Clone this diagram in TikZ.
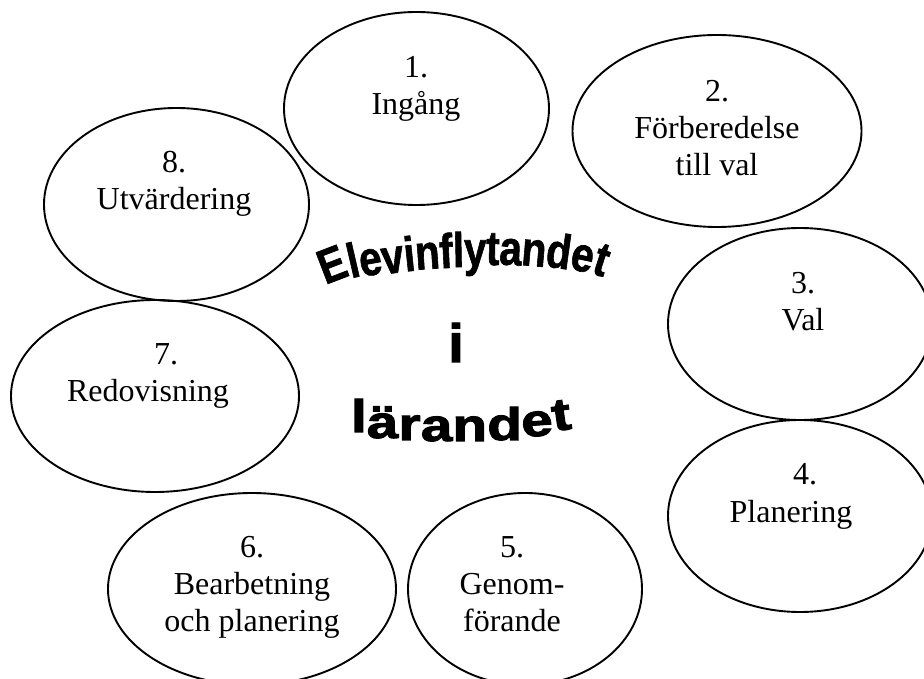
\documentclass[tikz,border=0pt]{standalone}
\usepackage{graphicx}
\usepackage{fontspec}
\setmainfont{Liberation Serif}
\newfontfamily\wafont[BoldFeatures={FakeBold=1.4}]{Liberation Sans}
\newfontfamily\wafontheavy[BoldFeatures={FakeBold=2.2}]{Liberation Sans}
\usetikzlibrary{shapes.geometric}
\tikzset{
  stage/.style={draw, line width=1.9pt, ellipse, inner sep=0pt},
  stagetext/.style={anchor=base, align=center, inner sep=0pt,
    font=\fontsize{32}{37}\selectfont},
  wordtop/.style={anchor=base, inner sep=0pt,
    font=\wafont\bfseries\fontsize{45}{45}\selectfont},
  wordbottom/.style={anchor=base, inner sep=0pt,
    font=\wafontheavy\bfseries\fontsize{47}{47}\selectfont},
}
\begin{document}
\begin{tikzpicture}[x=1pt,y=1pt]
\useasboundingbox (0,0) rectangle (924,678);
\clip (0,0) rectangle (924,678);
% ellipses
\node[stage, minimum width=265pt, minimum height=193pt] (e1) at (416.5,569.5) {};
\node[stage, minimum width=289pt, minimum height=192pt] (e2) at (717,547) {};
\node[stage, minimum width=264pt, minimum height=192pt] (e3) at (800,354) {};
\node[stage, minimum width=264pt, minimum height=192pt] (e4) at (800,162) {};
\node[stage, minimum width=234pt, minimum height=192pt] (e5) at (525,89) {};
\node[stage, minimum width=288pt, minimum height=192pt] (e6) at (252,89) {};
\node[stage, minimum width=288pt, minimum height=192pt] (e7) at (155,282) {};
\node[stage, minimum width=265pt, minimum height=193pt] (e8) at (176.5,473.5) {};
% texts (anchor = baseline of last line)
\node[stagetext] (t1) at (416,563) {1.\\Ingång};
\node[stagetext] (t2) at (717,502) {2.\\Förberedelse\\till val};
\node[stagetext] (t3) at (803,347) {3.\\Val};
\node[stagetext] (t4) at (791,156) {\hspace*{28pt}4.\\Planering};
\node[stagetext] (t5) at (512,47) {5.\\Genom-\\förande};
\node[stagetext] (t6) at (252,47) {6.\\Bearbetning\\och planering};
\node[stagetext] (t7) at (148,276) {\hspace*{36pt}7.\\Redovisning};
\node[stagetext] (t8) at (174,468) {8.\\Utvärdering};
% centre word art: Elevinflytandet
\foreach \c/\x/\y/\r [count=\k] in {E/338/280/21, l/356.6/277/13, e/372.9/275/10,
    v/394.7/273/8, i/411/271/6, n/428.4/269/4, f/446.9/268/3, l/458.8/267/1,
    y/475.2/266/0, t/492.6/265/-1, a/510/265/-3, n/532.8/266/-5,
    d/556.7/268/-8, e/579.6/271/-12, t/597/275/-18}
  \node[wordtop, rotate=\r] (w\k) at (\x,678-\y) {\scalebox{0.9}[1.08]{\c}};
% i
\node[anchor=base, inner sep=0pt, font=\wafontheavy\bfseries\fontsize{54}{54}\selectfont] (mid) at (456,316) {i};
% lärandet
\foreach \c/\x/\y/\r [count=\k] in {l/358.9/432/0, ä/382.7/438/0, r/409.6/440/0,
    a/436.6/441/0, n/469.8/441/0, d/504.6/440/0, e/537.9/436/4, t/563.2/430/8}
  \node[wordbottom, rotate=\r] (v\k) at (\x,678-\y) {\scalebox{1.2}[0.97]{\c}};
\end{tikzpicture}
\end{document}
